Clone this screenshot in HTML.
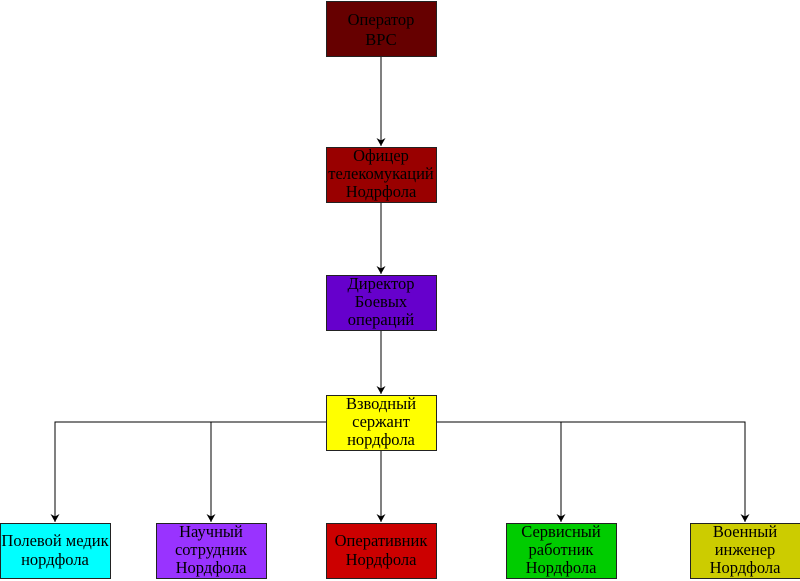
<!DOCTYPE html>
<html><head><meta charset="utf-8"><style>
html,body{margin:0;padding:0;background:#fff;width:800px;height:581px;overflow:hidden}
text{font-family:"Liberation Serif",serif;font-size:16.5px;fill:#000;text-anchor:middle}
</style></head><body>
<svg width="800" height="581" viewBox="0 0 800 581" xmlns="http://www.w3.org/2000/svg">
<defs><marker id="a" markerWidth="12" markerHeight="12" refX="6" refY="10" orient="0" markerUnits="userSpaceOnUse"><path d="M1.5,2 L6,4.5 L10.5,2 L6,10 Z" fill="#000"/></marker></defs>
<g stroke="#000" stroke-width="1" fill="none">
<line x1="381" y1="56" x2="381" y2="146" marker-end="url(#a)"/>
<line x1="381" y1="202" x2="381" y2="274" marker-end="url(#a)"/>
<line x1="381" y1="330" x2="381" y2="394" marker-end="url(#a)"/>
<polyline points="326,422 55,422 55,522" marker-end="url(#a)"/>
<line x1="211" y1="422" x2="211" y2="522" marker-end="url(#a)"/>
<line x1="381" y1="450" x2="381" y2="522" marker-end="url(#a)"/>
<polyline points="436,422 745,422 745,522" marker-end="url(#a)"/>
<line x1="561" y1="422" x2="561" y2="522" marker-end="url(#a)"/>
</g>
<g stroke="#222" stroke-width="1">
<rect x="326.5" y="1.5" width="110" height="55" fill="#660000"/>
<rect x="326.5" y="147.5" width="110" height="55" fill="#990000"/>
<rect x="326.5" y="275.5" width="110" height="55" fill="#6600CC"/>
<rect x="326.5" y="395.5" width="110" height="55" fill="#FFFF00"/>
<rect x="0.5" y="523.5" width="110" height="55" fill="#00FFFF"/>
<rect x="156.5" y="523.5" width="110" height="55" fill="#9933FF"/>
<rect x="326.5" y="523.5" width="110" height="55" fill="#CC0000"/>
<rect x="506.5" y="523.5" width="110" height="55" fill="#00CC00"/>
<rect x="690.5" y="523.5" width="110" height="55" fill="#CCCC00"/>
</g>
<text x="381" y="25">Оператор</text><text x="381" y="45">ВРС</text>
<text x="381" y="161">Офицер</text><text x="381" y="179">телекомукаций</text><text x="381" y="197">Нодрфола</text>
<text x="381" y="289">Директор</text><text x="381" y="307">Боевых</text><text x="381" y="325">операций</text>
<text x="381" y="409">Взводный</text><text x="381" y="427">сержант</text><text x="381" y="445">нордфола</text>
<text x="55" y="546">Полевой медик</text><text x="55" y="565">нордфола</text>
<text x="211" y="537">Научный</text><text x="211" y="555">сотрудник</text><text x="211" y="573">Нордфола</text>
<text x="381" y="546">Оперативник</text><text x="381" y="565">Нордфола</text>
<text x="561" y="537">Сервисный</text><text x="561" y="555">работник</text><text x="561" y="573">Нордфола</text>
<text x="745" y="537">Военный</text><text x="745" y="555">инженер</text><text x="745" y="573">Нордфола</text>
</svg>
</body></html>
